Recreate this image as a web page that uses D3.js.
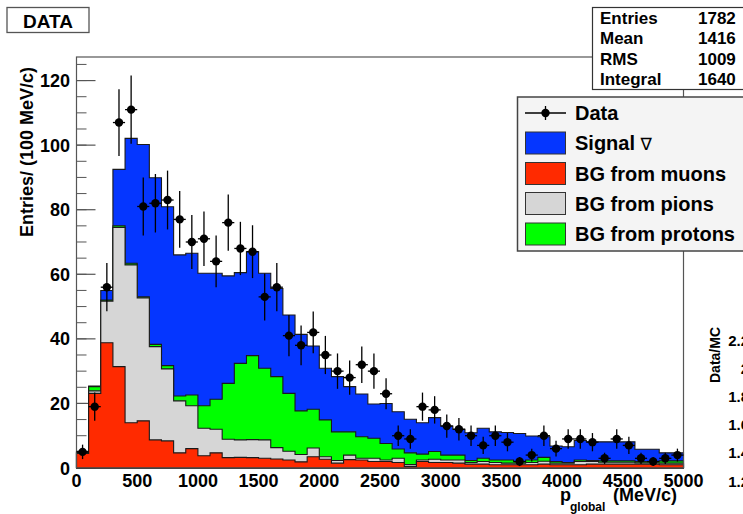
<!DOCTYPE html>
<html>
<head>
<meta charset="utf-8">
<script src="https://cdn.jsdelivr.net/npm/d3@7"></script>
<style>
  html, body { margin: 0; padding: 0; background: #fff; }
  svg { display: block; }
  text { font-family: "Liberation Sans", Arial, Helvetica, sans-serif; font-weight: bold; fill: #000; }
</style>
</head>
<body>
<svg id="chart" width="743" height="514"></svg>
<script>
// Momentum bins: 50 bins of 100 MeV/c from 0 to 5000
const binEdges = d3.range(0, 5001, 100);

// Measured counts per bin
const dataCounts = [5, 19, 56, 107, 111, 81, 82, 83, 77, 70,
                    71, 64, 76, 68, 67, 53, 56, 41, 38, 42,
                    35, 30, 28, 32, 30, 23, 10, 9, 19, 18,
                    13, 12, 10, 7, 10, 8, 2, 4, 10, 6,
                    9, 9, 8, 3, 9, 7, 3, 2, 3, 4];

// Simulated components (stacked bottom to top: muons, pions, protons, signal)
const bgMuons = [4.5, 23.1, 38.8, 31.4, 14.0, 14.6, 8.7, 8.4, 4.7, 6.0,
                 3.8, 4.7, 3.2, 3.3, 3.2, 3.0, 2.8, 2.5, 1.9, 3.5,
                 2.7, 1.5, 2.6, 2.5, 2.0, 2.0, 1.7, 0.5, 2.0, 1.7,
                 1.7, 1.5, 1.2, 1.2, 1.0, 1.0, 1.0, 1.0, 1.2, 1.0,
                 1.0, 1.0, 1.2, 1.2, 1.2, 1.2, 1.2, 1.2, 1.0, 1.0];
const bgPions = [0.3, 0.8, 12.9, 43.1, 48.9, 38.1, 28.9, 22.3, 16.1, 13.3,
                 8.5, 7.3, 5.7, 5.4, 5.6, 5.7, 3.5, 2.7, 2.3, 2.7,
                 0.8, 0.8, 1.4, 0.5, 1.0, 0.5, 1.3, 0.6, 0.5, 1.0,
                 0.8, 1.0, 0.5, 0.8, 0.7, 0.5, 0.5, 0.7, 0.9, 0.5,
                 0.5, 1.0, 0.8, 0.6, 0.6, 0.6, 0.4, 0.4, 0.5, 0.5];
const bgProtons = [0.0, 1.3, 0.3, 0.5, 0.5, 0.3, 0.7, 1.0, 1.5, 3.3,
                   7.0, 9.3, 17.3, 23.7, 26.0, 22.2, 22.0, 17.9, 13.5, 12.0,
                   11.4, 8.9, 7.2, 6.7, 6.2, 5.1, 2.9, 3.6, 1.8, 2.4,
                   1.5, 1.5, 0.6, 1.0, 0.8, 1.0, 0.5, 0.8, 1.2, 0.5,
                   0.2, 0.5, 0.3, 0.4, 0.4, 0.4, 0.4, 0.4, 0.7, 0.7];
const signalNuBar = [0.4, 0.2, 3.0, 17.5, 38.7, 47.2, 51.6, 49.2, 43.7, 43.9,
                     41.0, 39.0, 33.3, 28.1, 32.2, 29.4, 27.3, 24.3, 23.7, 19.6,
                     16.0, 17.1, 14.0, 13.2, 10.6, 12.4, 11.5, 10.4, 9.7, 10.5,
                     9.0, 8.0, 8.6, 9.3, 8.7, 8.5, 8.7, 7.4, 6.4, 4.8,
                     4.9, 6.0, 5.8, 5.9, 5.9, 5.9, 3.8, 3.8, 2.5, 2.5];

const xTicks = [0, 500, 1000, 1500, 2000, 2500, 3000, 3500, 4000, 4500, 5000];
const yTicks = [0, 20, 40, 60, 80, 100, 120];
const ratioTicks = [1.2, 1.4, 1.6, 1.8, 2, 2.2];

const statNames = ["Entries", "Mean", "RMS", "Integral"];
const statValues = ["1782", "1416", "1009", "1640"];

const legendLabels = ["Data", "Signal", "BG from muons", "BG from pions", "BG from protons"];
const colors = { signal: "#0536ff", muons: "#ff2a00", pions: "#d6d6d6", protons: "#00ff00" };

const svg = d3.select("#chart");

const frame = { left: 76.5, right: 683.5, top: 57, bottom: 468 };
const x = d3.scaleLinear().domain([0, 5000]).range([frame.left, frame.right]);
const y = d3.scaleLinear().domain([0, 127.3]).range([frame.bottom, frame.top]);

// Title box
svg.append("rect").attr("x", 7).attr("y", 7.5).attr("width", 82).attr("height", 25)
  .attr("fill", "#fff").attr("stroke", "#555").attr("stroke-width", 1.3);
svg.append("text").attr("x", 48).attr("y", 28).attr("text-anchor", "middle")
  .style("font-size", "19px").text("DATA");

// Axes ticks (drawn beneath the histograms)
const axisG = svg.append("g");
const yMinor = d3.range(0, 127.3, 5);
axisG.selectAll("line.ymin").data(yMinor).join("line")
  .attr("x1", frame.left).attr("x2", frame.left + 10)
  .attr("y1", d => y(d)).attr("y2", d => y(d))
  .attr("stroke", "#555").attr("stroke-width", 1);
axisG.selectAll("line.ymaj").data(yTicks).join("line")
  .attr("x1", frame.left).attr("x2", frame.left + 19)
  .attr("y1", d => y(d)).attr("y2", d => y(d))
  .attr("stroke", "#555").attr("stroke-width", 1.2);
axisG.selectAll("line.xmin").data(d3.range(0, 5001, 100)).join("line")
  .attr("x1", d => x(d)).attr("x2", d => x(d))
  .attr("y1", frame.bottom).attr("y2", frame.bottom - 6)
  .attr("stroke", "#555");
axisG.selectAll("line.xmaj").data(xTicks).join("line")
  .attr("x1", d => x(d)).attr("x2", d => x(d))
  .attr("y1", frame.bottom).attr("y2", frame.bottom - 12)
  .attr("stroke", "#555");

// Stacked histograms: cumulative sums
const nBins = dataCounts.length;
const cumMuons = bgMuons.slice();
const cumPions = d3.range(nBins).map(i => cumMuons[i] + bgPions[i]);
const cumProtons = d3.range(nBins).map(i => cumPions[i] + bgProtons[i]);
const cumSignal = d3.range(nBins).map(i => cumProtons[i] + signalNuBar[i]);

function stepPath(vals) {
  const pts = [[x(0), y(0)]];
  vals.forEach((v, i) => {
    pts.push([x(binEdges[i]), y(v)]);
    pts.push([x(binEdges[i + 1]), y(v)]);
  });
  pts.push([x(5000), y(0)]);
  return d3.line()(pts) + "Z";
}

const histG = svg.append("g");
[[cumSignal, colors.signal], [cumProtons, colors.protons],
 [cumPions, colors.pions], [cumMuons, colors.muons]].forEach(([vals, col]) => {
  histG.append("path").attr("d", stepPath(vals))
    .attr("fill", col).attr("stroke", "#1a1a1a").attr("stroke-width", 1.1)
    .attr("stroke-linejoin", "miter");
});

// Frame
svg.append("rect").attr("x", frame.left).attr("y", frame.top)
  .attr("width", frame.right - frame.left).attr("height", frame.bottom - frame.top)
  .attr("fill", "none").attr("stroke", "#555").attr("stroke-width", 1.2);

// Data points with statistical error bars
const pts = svg.append("g");
const binW = x(100) - x(0);
dataCounts.forEach((n, i) => {
  const cx = x(binEdges[i] + 50);
  const err = Math.sqrt(n);
  pts.append("line").attr("x1", cx).attr("x2", cx)
    .attr("y1", y(n - err)).attr("y2", y(n + err))
    .attr("stroke", "#000").attr("stroke-width", 1.3);
  pts.append("line").attr("x1", cx - binW / 2).attr("x2", cx + binW / 2)
    .attr("y1", y(n)).attr("y2", y(n))
    .attr("stroke", "#000").attr("stroke-width", 1.3);
  pts.append("circle").attr("cx", cx).attr("cy", y(n)).attr("r", 4.2).attr("fill", "#000");
});

// Axis labels
svg.selectAll("text.ylab").data(yTicks).join("text")
  .attr("x", 70).attr("y", d => y(d) + 6.5).attr("text-anchor", "end")
  .style("font-size", "18px").text(d => d);
svg.selectAll("text.xlab").data(xTicks).join("text")
  .attr("x", d => x(d)).attr("y", 486.5).attr("text-anchor", "middle")
  .style("font-size", "18px").text(d => d);

svg.append("text").attr("transform", "translate(33,67) rotate(-90)")
  .attr("text-anchor", "end").style("font-size", "18px").text("Entries/ (100 MeV/c)");

svg.append("text").attr("x", 560).attr("y", 500.5).style("font-size", "18px").text("p");
svg.append("text").attr("x", 570).attr("y", 510.5).style("font-size", "12px").text("global");
svg.append("text").attr("x", 613).attr("y", 501).style("font-size", "18px").text("(MeV/c)");

// Statistics box
svg.append("rect").attr("x", 592.5).attr("y", 7.5).attr("width", 170).attr("height", 82)
  .attr("fill", "#fff").attr("stroke", "#333").attr("stroke-width", 1.2);
statNames.forEach((s, i) => {
  const by = 23.5 + i * 20.5;
  svg.append("text").attr("x", 600).attr("y", by).style("font-size", "17px").text(s);
  svg.append("text").attr("x", 698).attr("y", by).style("font-size", "17px").text(statValues[i]);
});

// Legend
const lg = svg.append("g");
lg.append("rect").attr("x", 517.5).attr("y", 97).attr("width", 260).attr("height", 154)
  .attr("fill", "#f4f4f4").attr("stroke", "#444").attr("stroke-width", 1.5);
const rowY = [113, 143, 173.5, 203.5, 234];
const swatchCols = [null, colors.signal, colors.muons, colors.pions, colors.protons];
legendLabels.forEach((lab, i) => {
  const cy = rowY[i];
  if (i === 0) {
    lg.append("line").attr("x1", 525).attr("x2", 566).attr("y1", cy).attr("y2", cy)
      .attr("stroke", "#000").attr("stroke-width", 1.3);
    lg.append("line").attr("x1", 545.5).attr("x2", 545.5).attr("y1", cy - 7).attr("y2", cy + 7)
      .attr("stroke", "#000").attr("stroke-width", 1.3);
    lg.append("circle").attr("cx", 545.5).attr("cy", cy).attr("r", 4.2).attr("fill", "#000");
  } else {
    lg.append("rect").attr("x", 525.5).attr("y", cy - 11).attr("width", 40).attr("height", 22)
      .attr("fill", swatchCols[i]).attr("stroke", "#333").attr("stroke-width", 1);
  }
  const t = lg.append("text").attr("x", 575).attr("y", cy + 7).style("font-size", "20px").text(lab);
  if (i === 1) {
    t.append("tspan").text(" ");
    t.append("tspan").style("font-family", "'DejaVu Sans', sans-serif")
      .style("font-weight", "normal").style("font-size", "17px").text("∇");
  }
});

// Ratio panel axis (partly outside the canvas)
const r = d3.scaleLinear().domain([1.2, 2.2]).range([481, 340]);
svg.selectAll("text.rlab").data(ratioTicks).join("text")
  .attr("x", 749).attr("y", d => r(d) + 5.5).attr("text-anchor", "end")
  .style("font-size", "15px").text(d => d);
svg.append("text").attr("transform", "translate(720,355) rotate(-90)")
  .attr("text-anchor", "middle").style("font-size", "14px").text("Data/MC");
</script>
</body>
</html>
